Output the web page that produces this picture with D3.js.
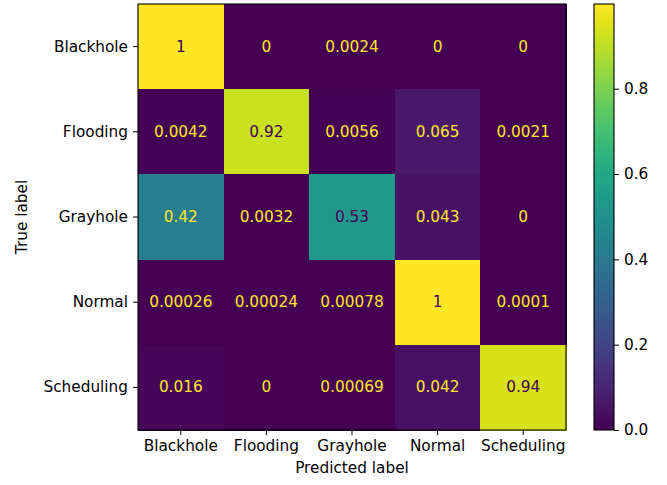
<!DOCTYPE html>
<html>
<head>
<meta charset="utf-8">
<script src="https://cdn.jsdelivr.net/npm/d3@7"></script>
<style>
  body { margin: 0; background: #fff; }
  text { font-family: "DejaVu Sans", sans-serif; }
</style>
</head>
<body>
<svg id="chart" width="667" height="485"></svg>
<script>
// Data
const classes = ['Blackhole', 'Flooding', 'Grayhole', 'Normal', 'Scheduling'];
// 每一列 = 真實類別, 每一行 = 預測類別 (row-normalised)
const rowBlackhole  = [0.9976, 0, 0.0024, 0, 0];
const rowFlooding   = [0.0042, 0.92, 0.0056, 0.065, 0.0021];
const rowGrayhole   = [0.42, 0.0032, 0.53, 0.043, 0];
const rowNormal     = [0.00026, 0.00024, 0.00078, 0.9986, 0.0001];
const rowScheduling = [0.016, 0, 0.00069, 0.042, 0.94];
const colorbarTicks = [0, 0.2, 0.4, 0.6, 0.8];

const matrix = [rowBlackhole, rowFlooding, rowGrayhole, rowNormal, rowScheduling];
const cells = [];
matrix.forEach((row, i) => row.forEach((v, j) => cells.push({ t: classes[i], p: classes[j], v: v })));

const svg = d3.select('#chart');
const fontSize = 15.3;

// Matrix area
const mx = 138, my = 4, mw = 428, mh = 426;
const xScale = d3.scaleBand().domain(classes).range([mx, mx + mw]);
const yScale = d3.scaleBand().domain(classes).range([my, my + mh]);

const vmin = d3.min(cells, d => d.v);
const vmax = d3.max(cells, d => d.v);
const color = d3.scaleSequential(d3.interpolateViridis).domain([vmin, vmax]);
const thresh = (vmin + vmax) / 2;

svg.append('g').attr('shape-rendering', 'crispEdges')
  .selectAll('rect').data(cells).join('rect')
  .attr('x', d => xScale(d.p))
  .attr('y', d => yScale(d.t))
  .attr('width', xScale.bandwidth() + 1)
  .attr('height', yScale.bandwidth() + 1)
  .attr('fill', d => color(d.v));

const fmt = d3.format('.2~g');
svg.append('g').selectAll('text').data(cells).join('text')
  .attr('x', d => xScale(d.p) + xScale.bandwidth() / 2)
  .attr('y', d => yScale(d.t) + yScale.bandwidth() / 2)
  .attr('text-anchor', 'middle')
  .attr('dominant-baseline', 'central')
  .style('font-size', fontSize + 'px')
  .style('fill', d => d.v < thresh ? d3.interpolateViridis(1) : d3.interpolateViridis(0))
  .text(d => fmt(d.v));

// frame
svg.append('rect').attr('x', mx).attr('y', my).attr('width', mw).attr('height', mh)
  .attr('fill', 'none').attr('stroke', '#000').attr('stroke-width', 1.1);

// Axes
const xAxis = d3.axisBottom(xScale).tickSizeInner(5).tickSizeOuter(0).tickPadding(5);
const xg = svg.append('g').attr('transform', `translate(0,${my + mh})`).call(xAxis);
xg.select('.domain').remove();
xg.selectAll('text').style('font-size', fontSize + 'px').style('font-family', '"DejaVu Sans"').attr('fill', '#000');

const yAxis = d3.axisLeft(yScale).tickSizeInner(5).tickSizeOuter(0).tickPadding(5);
const yg = svg.append('g').attr('transform', `translate(${mx},0)`).call(yAxis);
yg.select('.domain').remove();
yg.selectAll('text').style('font-size', fontSize + 'px').style('font-family', '"DejaVu Sans"').attr('fill', '#000');

svg.append('text').attr('x', mx + mw / 2).attr('y', 473)
  .attr('text-anchor', 'middle').style('font-size', fontSize + 'px').text('Predicted label');
svg.append('text').attr('transform', `translate(27,${my + mh / 2}) rotate(-90)`)
  .attr('text-anchor', 'middle').style('font-size', fontSize + 'px').text('True label');

// Colorbar
const cx = 594, cw = 20;
const cScale = d3.scaleLinear().domain([vmin, vmax]).range([my + mh, my]);
const defs = svg.append('defs');
const grad = defs.append('linearGradient').attr('id', 'cbar')
  .attr('x1', 0).attr('y1', 1).attr('x2', 0).attr('y2', 0);
d3.range(0, 1.0001, 0.05).forEach(t => {
  grad.append('stop').attr('offset', t).attr('stop-color', d3.interpolateViridis(t));
});
svg.append('rect').attr('x', cx).attr('y', my).attr('width', cw).attr('height', mh)
  .attr('fill', 'url(#cbar)').attr('stroke', '#000').attr('stroke-width', 1.1);

const cAxis = d3.axisRight(cScale).tickValues(colorbarTicks).tickFormat(d3.format('.1f'))
  .tickSizeInner(5).tickSizeOuter(0).tickPadding(5);
const cg = svg.append('g').attr('transform', `translate(${cx + cw},0)`).call(cAxis);
cg.select('.domain').remove();
cg.selectAll('text').style('font-size', fontSize + 'px').style('font-family', '"DejaVu Sans"').attr('fill', '#000');
</script>
</body>
</html>
